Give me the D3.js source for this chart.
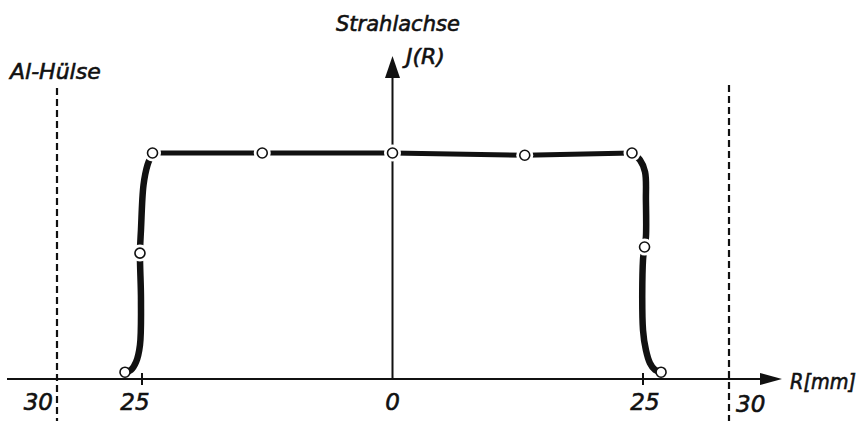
<!DOCTYPE html>
<html>
<head>
<meta charset="utf-8">
<script src="https://cdn.jsdelivr.net/npm/d3@7"></script>
<style>
body { margin: 0; background: #fff; }
text { font-family: "DejaVu Sans", sans-serif; font-style: italic; fill: #111; stroke: #111; stroke-width: 0.6px; }
</style>
</head>
<body>
<div id="chart"></div>
<script>
var width = 862;
var height = 421;

// measured circles (R in mm, relative intensity)
var pointR = [-26.0, -25.12, -23.95, -13.0, 0, 13.2, 23.9, 25.09, 26.05];
var pointI = [0.03, 0.557, 1.0, 1.0, 1.0, 0.99, 1.0, 0.584, 0.03];

// drawn curve
var leftR  = [-26.0, -25.65, -25.35, -25.12, -25.06, -25.12, -25.06, -24.85, -24.45, -23.95];
var leftI  = [0.03, 0.04, 0.075, 0.15, 0.35, 0.557, 0.66, 0.858, 0.947, 1.0];
var topR   = [-23.95, -13.0, 0, 13.2, 23.9];
var topI   = [1.0, 1.0, 1.0, 0.99, 1.0];
var rightR = [23.9, 24.7, 25.12, 25.17, 25.17, 25.09, 25.0, 25.0, 25.17, 25.4, 25.7, 26.05];
var rightI = [1.0, 0.969, 0.916, 0.79, 0.628, 0.584, 0.527, 0.217, 0.128, 0.071, 0.04, 0.03];

var tickLabels = [-30, -25, 0, 25, 30];
var sleeveR = [-30, 30];

var svg = d3.select("#chart")
    .append("svg")
    .attr("width", width)
    .attr("height", height);

// schematic drawing: the sleeve is not drawn to scale
var x = d3.scaleLinear()
    .domain([-30, -25, 25, 30])
    .range([57, 142, 643, 729]);
var y = d3.scaleLinear()
    .domain([0, 1])
    .range([379, 153]);

// Al sleeve
svg.selectAll(".sleeve")
    .data(sleeveR)
    .join("line")
    .attr("class", "sleeve")
    .attr("x1", d => x(d)).attr("x2", d => x(d))
    .attr("y1", (d, i) => i === 0 ? 88 : 85)
    .attr("y2", height)
    .attr("stroke", "#111")
    .attr("stroke-width", 2.2)
    .attr("stroke-dasharray", "7,4");

// x axis
svg.append("line")
    .attr("x1", 7).attr("x2", 765)
    .attr("y1", y(0)).attr("y2", y(0))
    .attr("stroke", "#111")
    .attr("stroke-width", 2);
svg.append("path")
    .attr("d", "M782," + y(0) + "L760," + (y(0) - 6) + "L760," + (y(0) + 6) + "Z")
    .attr("fill", "#111");

svg.selectAll(".tick")
    .data([-25, 25])
    .join("line")
    .attr("class", "tick")
    .attr("x1", d => x(d)).attr("x2", d => x(d))
    .attr("y1", y(0) - 6).attr("y2", y(0) + 6)
    .attr("stroke", "#111")
    .attr("stroke-width", 2);

svg.selectAll(".ticklabel")
    .data(tickLabels)
    .join("text")
    .attr("class", "ticklabel")
    .attr("x", d => x(d))
    .attr("y", d => d === 30 ? 412 : 410)
    .attr("dx", d => d === -30 ? -4 : d === 30 ? 7 : d === -25 ? -7 : d === 25 ? 2 : 0)
    .attr("text-anchor", d => d === -30 ? "end" : d === 30 ? "start" : "middle")
    .style("font-size", "23px")
    .text(d => Math.abs(d));

// y axis
svg.append("line")
    .attr("x1", x(0)).attr("x2", x(0))
    .attr("y1", y(0)).attr("y2", 72)
    .attr("stroke", "#111")
    .attr("stroke-width", 2);
svg.append("path")
    .attr("d", "M" + x(0) + ",56L" + (x(0) - 7.5) + ",78L" + (x(0) + 7.5) + ",78Z")
    .attr("fill", "#111");

// curve
var smooth = d3.line()
    .x(d => x(d[0]))
    .y(d => y(d[1]))
    .curve(d3.curveCatmullRom.alpha(0.5));
var straight = d3.line()
    .x(d => x(d[0]))
    .y(d => y(d[1]));

var parts = [
    { r: leftR, v: leftI, w: 6.5, gen: smooth },
    { r: topR, v: topI, w: 5, gen: straight },
    { r: rightR, v: rightI, w: 6.5, gen: smooth }
];
parts.forEach(function (p) {
    svg.append("path")
        .datum(p.r.map((d, i) => [d, p.v[i]]))
        .attr("fill", "none")
        .attr("stroke", "#111")
        .attr("stroke-width", p.w)
        .attr("stroke-linecap", "round")
        .attr("d", p.gen);
});

var pts = pointR.map((d, i) => [d, pointI[i]]);
// white gap around the circles
svg.selectAll(".halo")
    .data(pts.filter((d, i) => i > 0 && i < pts.length - 1))
    .join("circle")
    .attr("class", "halo")
    .attr("cx", d => x(d[0]))
    .attr("cy", d => y(d[1]))
    .attr("r", 8.5)
    .attr("fill", "#fff");
svg.selectAll(".pt")
    .data(pts)
    .join("circle")
    .attr("class", "pt")
    .attr("cx", d => x(d[0]))
    .attr("cy", d => y(d[1]))
    .attr("r", 5)
    .attr("fill", "#fff")
    .attr("stroke", "#111")
    .attr("stroke-width", 1.6);

// labels
svg.append("text")
    .attr("x", 10).attr("y", 79)
    .style("font-size", "22px")
    .text("Al-Hülse");
svg.append("text")
    .attr("x", 336).attr("y", 31)
    .style("font-size", "21px")
    .text("Strahlachse");
svg.append("text")
    .attr("x", 406).attr("y", 64)
    .style("font-size", "22px")
    .text("J(R)");
svg.append("text")
    .attr("x", 790).attr("y", 389)
    .attr("textLength", 66)
    .attr("lengthAdjust", "spacingAndGlyphs")
    .style("font-size", "21px")
    .text("R[mm]");
</script>
</body>
</html>
